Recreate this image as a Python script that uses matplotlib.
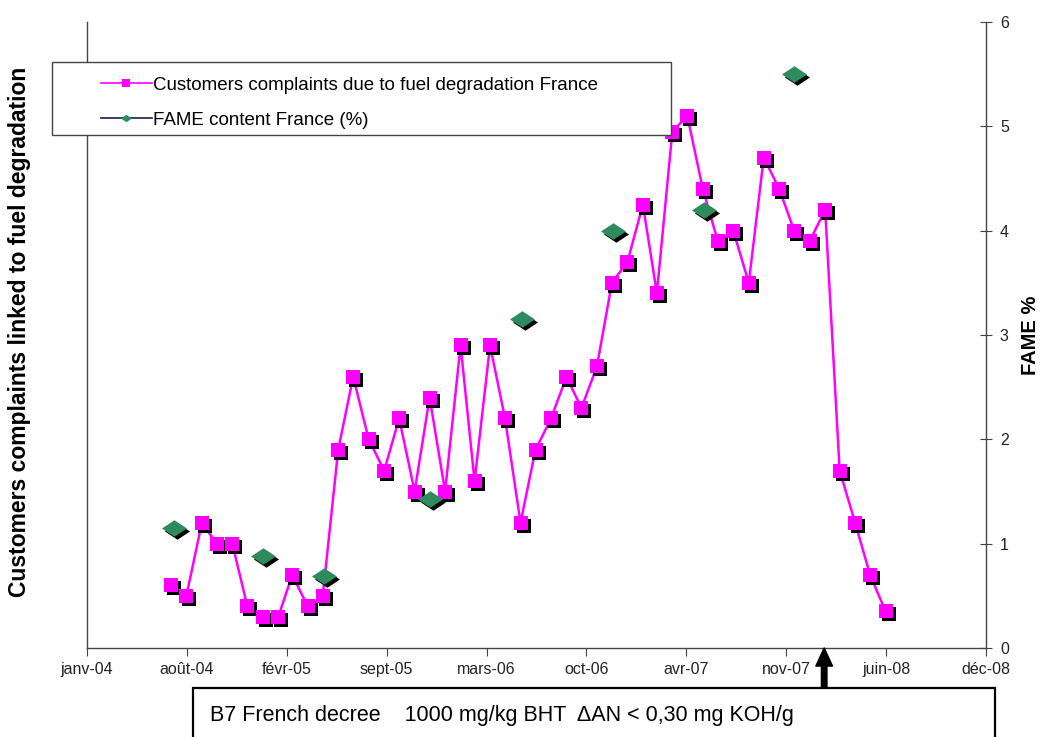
import numpy as np
import pandas as pd
import matplotlib
matplotlib.use('Agg')
import matplotlib.pyplot as plt
from matplotlib.lines import Line2D
from matplotlib.patches import Rectangle
from matplotlib.path import Path
from matplotlib.transforms import ScaledTranslation

plt.rcParams['font.family'] = ['Liberation Sans', 'DejaVu Sans']

################### donnees ##############################

complaints_start = '2004-07-01'
complaints = [0.6, 0.5, 1.2, 1.0, 1.0, 0.4, 0.3, 0.3, 0.7, 0.4, 0.5, 1.9,
              2.6, 2.0, 1.7, 2.2, 1.5, 2.4, 1.5, 2.9, 1.6, 2.9, 2.2, 1.2,
              1.9, 2.2, 2.6, 2.3, 2.7, 3.5, 3.7, 4.25, 3.4, 4.95, 5.1, 4.4,
              3.9, 4.0, 3.5, 4.7, 4.4, 4.0, 3.9, 4.2, 1.7, 1.2, 0.7, 0.35]
fame_dates = ['2004-07-08', '2005-01-02', '2005-05-03', '2005-12-01',
              '2006-06-03', '2006-12-04', '2007-06-04', '2007-12-01']
fame = [1.15, 0.88, 0.69, 1.43, 3.15, 4.0, 4.2, 5.5]
tick_labels = ['janv-04', 'août-04', 'févr-05', 'sept-05', 'mars-06',
               'oct-06', 'avr-07', 'nov-07', 'juin-08', 'déc-08']
axis_start = '2004-01-15'
tick_step_days = 200
decree_date = '2008-01-30'
decree_txt = "B7 French decree    1000 mg/kg BHT  \u0394AN < 0,30 mg KOH/g"

dates = pd.date_range(complaints_start, periods=len(complaints), freq='MS')
fdates = pd.to_datetime(fame_dates)
t0 = pd.Timestamp(axis_start)
ticks = [t0 + pd.Timedelta(days=tick_step_days * i) for i in range(len(tick_labels))]

################### figure ##############################

fig = plt.figure(figsize=(10.48, 7.37), dpi=100)
ax = fig.add_axes([87 / 1048, 89 / 737, 899 / 1048, 626 / 737])

pink = '#ff00ff'
green = '#2e8b5e'
diamond = Path([(-1, 0), (0, 0.66), (1, 0), (0, -0.66), (-1, 0)],
               [Path.MOVETO, Path.LINETO, Path.LINETO, Path.LINETO, Path.CLOSEPOLY])
shadow = ax.transData + ScaledTranslation(0.03, -0.03, fig.dpi_scale_trans)

# ombres noires sous les marqueurs
ax.plot(dates, complaints, 's', color='black', ms=10, mew=0, transform=shadow, zorder=2)
ax.plot(fdates, fame, ls='none', marker=diamond, color='black', ms=18, mew=0,
        transform=shadow, zorder=2)

ax.plot(dates, complaints, '-', color=pink, lw=1.8, zorder=1)
ax.plot(dates, complaints, 's', color=pink, ms=10, mew=0, zorder=3)
ax.plot(fdates, fame, ls='none', marker=diamond, color=green, ms=18, mew=0, zorder=3)

ax.set_xlim(ticks[0], ticks[-1])
ax.set_ylim(0, 6)
ax.set_xticks(ticks)
ax.set_xticklabels(tick_labels, fontsize=11.5, color='#222222')
ax.tick_params(axis='x', direction='out', length=6, color='#444444', pad=4)

ax.yaxis.tick_right()
ax.set_yticks(range(7))
ax.tick_params(axis='y', direction='inout', length=8, color='#444444',
               labelsize=11.5, labelcolor='#222222', pad=6)
ax.spines['top'].set_visible(False)
for s in ['left', 'right', 'bottom']:
    ax.spines[s].set_color('#444444')
    ax.spines[s].set_linewidth(1.0)

fig.text(20 / 1048, (737 - 332) / 737, 'Customers complaints linked to fuel degradation',
         rotation=90, ha='center', va='center', fontsize=16.5, fontweight='bold')
fig.text(1031 / 1048, (737 - 335) / 737, 'FAME %', rotation=90, ha='center', va='center',
         fontsize=14.5, fontweight='bold')

# legende
fig.patches.append(Rectangle((52 / 1048, (737 - 135) / 737), 619 / 1048, 73 / 737,
                             transform=fig.transFigure, facecolor='white',
                             edgecolor='#444444', lw=1.0, zorder=5))
handles = [Line2D([], [], color=pink, lw=1.2, marker='s', ms=6, mew=0),
           Line2D([], [], color='#1a1a4e', lw=1.2, marker=diamond, ms=8,
                  mfc=green, mew=0)]
leg = fig.legend(handles, ['Customers complaints due to fuel degradation France',
                           'FAME content France (%)'],
                 loc='upper left', bbox_to_anchor=(84 / 1048, (737 - 60) / 737),
                 frameon=False, fontsize=13.5, handlelength=2.7, handletextpad=0.1,
                 labelspacing=0.95)
leg.set_zorder(6)

# encadre du decret + fleche
fig.patches.append(Rectangle((193 / 1048, -0.05), 802 / 1048, 0.05 + 49 / 737,
                             transform=fig.transFigure, fill=False,
                             edgecolor='black', lw=1.6))
fig.text(210 / 1048, 22 / 737, decree_txt, fontsize=15.5, va='center', ha='left')
ax.annotate('', xy=(pd.Timestamp(decree_date), 0), xycoords='data',
            xytext=(0, -29), textcoords='offset points', annotation_clip=False,
            arrowprops=dict(facecolor='black', edgecolor='black', width=4,
                            headwidth=12, headlength=13, shrink=0))

fig.savefig('out.png', dpi=100)
plt.close()
